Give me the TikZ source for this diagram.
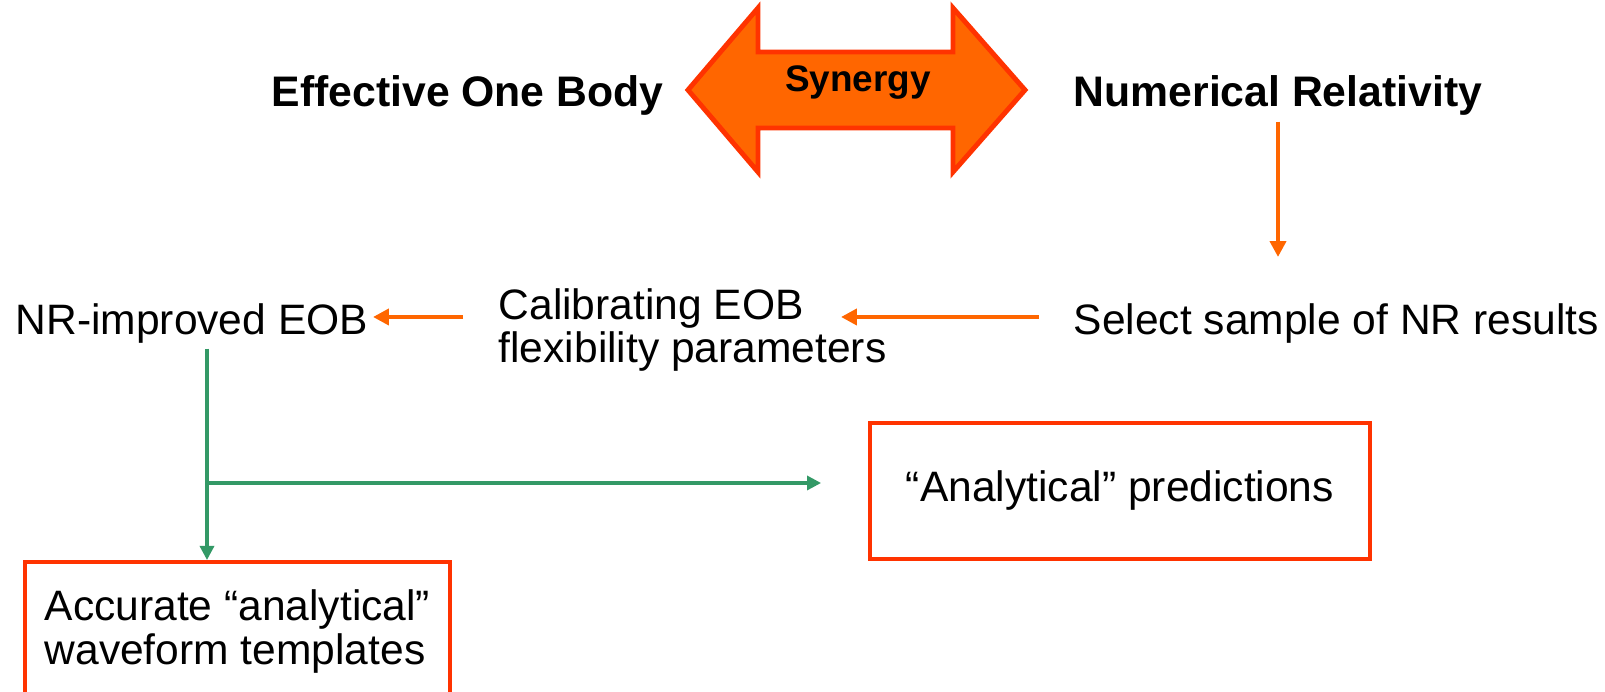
\documentclass[tikz,border=0pt]{standalone}
\usepackage{fontspec}
\setmainfont{Liberation Sans}
\usepackage{tikz}
\usetikzlibrary{positioning,arrows.meta}

\definecolor{synorange}{HTML}{FF6600}
\definecolor{boxred}{HTML}{FF3300}
\definecolor{flowgreen}{HTML}{339966}

\begin{document}
\begin{tikzpicture}[x=0.01cm, y=-0.01cm,
		txt/.style={inner sep=0pt, font=\fontsize{12.1}{12.5}\selectfont},
		headtxt/.style={inner sep=0pt, font=\fontsize{12.15}{12.5}\selectfont\bfseries},
		redbox/.style={draw=boxred, line width=1pt, inner sep=0pt, font=\fontsize{12.1}{12.5}\selectfont},
		orangearr/.style={draw=synorange, line width=1.2pt, -{Triangle[length=4.5pt, width=4.5pt]}},
		greenarr/.style={draw=flowgreen, line width=0.9pt, -{Triangle[length=4pt, width=4pt]}}]
		\useasboundingbox (0,0) rectangle (1605,692);

		% Synergy double arrow
		\filldraw[fill=synorange, draw=boxred, line width=1.4pt]
			(688,90) -- (758,8) -- (758,52) -- (953,52) -- (953,8) -- (1025,90)
			-- (953,172) -- (953,128) -- (758,128) -- (758,172) -- cycle;
		\node[inner sep=0pt, anchor=base, font=\fontsize{10.5}{12}\selectfont\bfseries] (syn) at (858,92) {Synergy};

		% Text
		\node[headtxt, anchor=base west] (eob) at (271,107) {Effective One Body};
		\node[headtxt, anchor=base west] (nr) at (1073,107) {Numerical Relativity};
		\node[txt, anchor=base west] (sel) at (1073,335) {Select sample of NR results};
		\node[txt, anchor=base west, align=left] (cal) at (498,363) {Calibrating EOB\\flexibility parameters};
		\node[txt, anchor=base west] (nreob) at (15,335) {NR-improved EOB};

		% Boxes
		\node[redbox, minimum width=5cm, minimum height=1.36cm] (ana) at (1120,491) {“Analytical” predictions};
		\node[redbox, anchor=north west, minimum width=4.25cm, minimum height=1.4cm, align=left] (acc) at (23,560)
			{Accurate “analytical”\\waveform templates};

		% Orange arrows
		\coordinate (nrend) at (1278,257);
		\draw[orangearr, shorten <=0.05cm] (nr.south -| nrend) -- (nrend);
		\coordinate (calin) at (841,317);
		\draw[orangearr] (sel.west |- calin) ++(-34,0) -- (calin);
		\coordinate (eobin) at (373,317);
		\draw[orangearr] (eobin) ++(90,0) -- (eobin);

		% Green arrows
		\coordinate (split) at (207,483);
		\draw[greenarr] (split |- nreob.south) ++(0,4) -- (split |- acc.north);
		\draw[greenarr] (split) -- ([xshift=-0.47cm]split -| ana.west);

	\end{tikzpicture}
\end{document}
